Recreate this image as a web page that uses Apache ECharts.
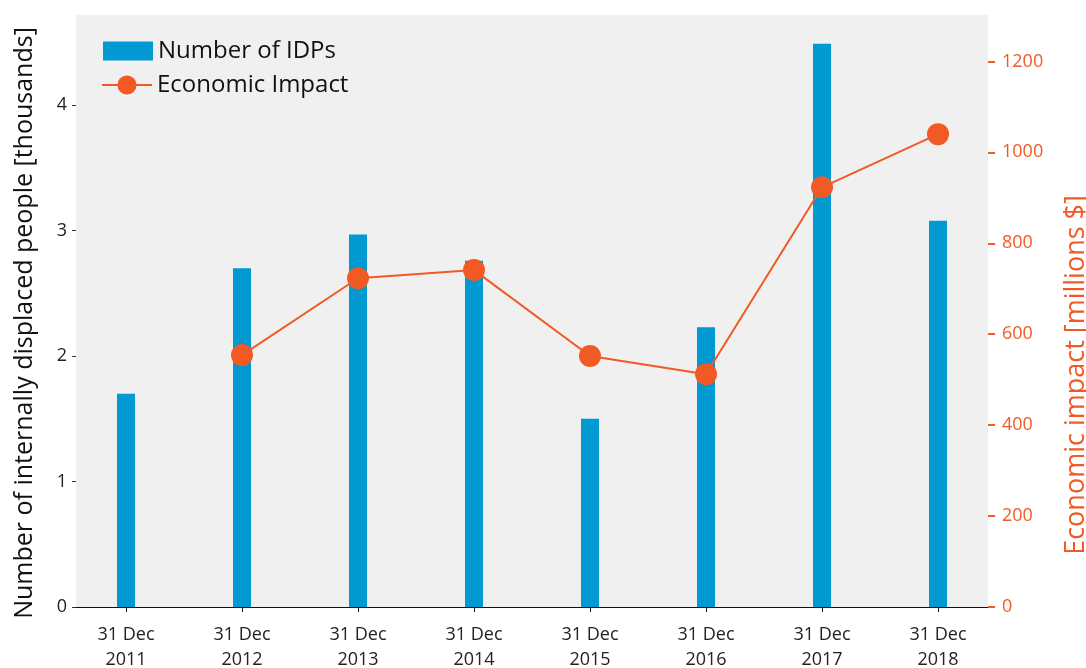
<!DOCTYPE html>
<html>
<head>
<meta charset="utf-8">
<script src="https://cdn.jsdelivr.net/npm/echarts@6/dist/echarts.min.js"></script>
<style>
  html, body { margin: 0; padding: 0; background: #fff; }
  #myChart { width: 1086px; height: 668px; }
</style>
</head>
<body>
<div id="myChart"></div>
<script>
// years on the x axis (all dated 31 Dec)
var years = ["2011", "2012", "2013", "2014", "2015", "2016", "2017", "2018"];
// internally displaced people, thousands
var idpValues = [1.70, 2.70, 2.97, 2.76, 1.50, 2.23, 4.49, 3.08];
// economic impact, millions $ (no value for 2011)
var impactValues = [null, 554, 723, 741, 552, 512, 923, 1040];
var leftTicks = [0, 1, 2, 3, 4];
var rightTicks = [0, 200, 400, 600, 800, 1000, 1200];

var blue = "#0099d1";
var orange = "#f15a24";
var font = "Open Sans";

var xIdx = years.map(function(y, i) { return i; });
var barData = idpValues.map(function(v, i) { return [i, v]; });
var lineData = impactValues.map(function(v, i) { return [i, v]; });

var myChart = echarts.init(document.getElementById("myChart"));
var option = {
  animation: false,
  textStyle: { fontFamily: font },
  grid: {
    left: 76,
    right: 98,
    top: 15,
    bottom: 61,
    containLabel: false,
    outerBoundsMode: "none",
    show: true,
    backgroundColor: "#f0f0f0",
    borderWidth: 0
  },
  legend: [
    {
      data: [{ name: "Number of IDPs", icon: "rect" }],
      left: 98,
      top: 34,
      itemWidth: 50,
      itemHeight: 19,
      itemGap: 6,
      textStyle: { color: "#111", fontSize: 24, fontFamily: font }
    },
    {
      data: ["Economic Impact"],
      left: 96,
      top: 68,
      itemWidth: 50,
      itemHeight: 24,
      textStyle: { color: "#111", fontSize: 24, fontFamily: font }
    }
  ],
  xAxis: {
    type: "value",
    min: -0.431,
    max: 7.431,
    splitLine: { show: false },
    axisLine: { show: true, onZero: false, lineStyle: { color: "#111", width: 1 } },
    axisTick: { show: true, length: 5, lineStyle: { color: "#111" }, customValues: xIdx },
    axisLabel: {
      customValues: xIdx,
      color: "#222",
      fontSize: 18,
      lineHeight: 25,
      margin: 15,
      formatter: function(v) { return "31 Dec\n" + years[v]; }
    }
  },
  yAxis: [
    {
      type: "value",
      min: 0,
      max: 4.72,
      name: "Number of internally displaced people [thousands]",
      nameLocation: "middle",
      nameGap: 39,
      nameTextStyle: { color: "#111", fontSize: 25, padding: [0, 24, 0, 0] },
      splitLine: { show: false },
      axisLine: { show: false, onZero: false },
      axisTick: { show: true, length: 4, lineStyle: { color: "#333" }, customValues: leftTicks },
      axisLabel: { customValues: leftTicks, color: "#222", fontSize: 18, margin: 9 }
    },
    {
      type: "value",
      min: 0,
      max: 1302,
      name: "Economic impact [millions $]",
      nameLocation: "middle",
      nameGap: 75,
      nameTextStyle: { color: orange, fontSize: 27, padding: [0, 128, 0, 0] },
      splitLine: { show: false },
      axisLine: { show: false, onZero: false },
      axisTick: { show: true, length: 7, lineStyle: { color: orange, width: 2 }, customValues: rightTicks },
      axisLabel: {
        customValues: rightTicks,
        color: orange,
        fontSize: 18,
        margin: 14,
        formatter: function(v) { return String(v); }
      }
    }
  ],
  series: [
    {
      name: "Number of IDPs",
      type: "bar",
      yAxisIndex: 0,
      barWidth: 18,
      itemStyle: { color: blue },
      data: barData
    },
    {
      name: "Economic Impact",
      type: "line",
      yAxisIndex: 1,
      symbol: "circle",
      symbolSize: 22,
      lineStyle: { color: orange, width: 2 },
      itemStyle: { color: orange },
      data: lineData
    }
  ]
};
myChart.setOption(option);
</script>
</body>
</html>
